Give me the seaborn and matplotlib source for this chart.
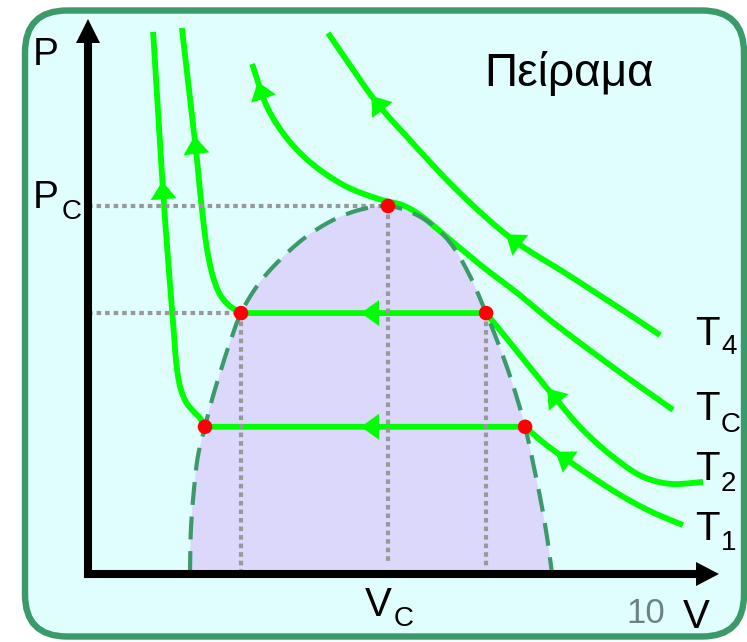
import numpy as np
import pandas as pd
import matplotlib
matplotlib.use("Agg")
import matplotlib.pyplot as plt
from matplotlib.patches import FancyBboxPatch, Polygon
import seaborn as sns

# ---------------------------------------------------------------
# Van der Waals style P-V diagram (V and P in units of Vc/10, Pc/10)
# ---------------------------------------------------------------
Vc, Pc = 10.0, 10.0

# saturation dome: liquid side -> critical point -> vapour side
dome_V = [3.40, 3.43, 3.53, 3.67, 3.90, 4.13, 4.40, 4.70, 5.10, 5.73, 6.63, 7.40,
          8.30, 9.17, 10.00, 10.73, 11.50, 12.13, 12.73, 13.27, 13.63, 14.00,
          14.30, 14.57, 14.83, 15.10, 15.30, 15.47]
dome_P = [0.00, 1.20, 2.28, 3.23, 4.00, 4.73, 5.46, 6.22, 7.09, 7.93, 8.72, 9.24,
          9.67, 9.92, 10.00, 9.84, 9.48, 8.94, 8.10, 7.09, 6.36, 5.54,
          4.78, 4.00, 3.04, 1.96, 1.01, 0.00]

# isotherm T1 (lowest): liquid branch, then vapour branch
T1_liq_V = [2.17, 2.33, 2.50, 2.67, 2.83, 2.97, 3.10, 3.27, 3.50, 3.73, 3.90]
T1_liq_P = [14.73, 12.61, 10.43, 8.53, 6.90, 5.54, 5.00, 4.67, 4.43, 4.24, 4.00]
T1_vap_V = [14.57, 15.07, 15.83, 17.63, 18.73, 19.83]
T1_vap_P = [4.00, 3.64, 3.18, 2.20, 1.71, 1.33]

# isotherm T2
T2_liq_V = [3.13, 3.37, 3.60, 3.80, 4.00, 4.20, 4.43, 4.73, 5.10]
T2_liq_P = [14.84, 13.15, 11.52, 9.89, 8.67, 7.99, 7.55, 7.28, 7.09]
T2_vap_V = [13.27, 13.73, 14.40, 15.40, 16.50, 17.63, 18.50, 19.40, 20.50]
T2_vap_P = [7.09, 6.63, 5.95, 4.95, 3.91, 3.10, 2.64, 2.45, 2.50]

# critical isotherm Tc
Tc_V = [5.47, 5.97, 6.50, 7.07, 7.73, 8.63, 9.50, 10.00, 10.40, 10.97, 12.07,
        13.17, 14.30, 15.40, 17.63, 19.50]
Tc_P = [13.86, 12.69, 11.98, 11.44, 10.98, 10.52, 10.24, 10.12, 10.05, 9.81, 9.08,
        8.34, 7.64, 6.90, 5.54, 4.46]

# supercritical isotherm T4
T4_V = [8.00, 8.73, 9.63, 10.63, 12.40, 14.17, 16.00, 18.17, 19.07]
T4_P = [14.70, 13.83, 12.80, 11.88, 10.35, 9.08, 8.13, 6.98, 6.49]

# flow arrows: (isotherm, coordinate used to locate it, value)
arrow_marks = [("T1", "P", 10.43), ("T1", "V", 9.40), ("T1", "V", 15.83),
               ("T2", "P", 11.66), ("T2", "V", 9.40), ("T2", "V", 15.50),
               ("Tc", "P", 13.15),
               ("T4", "V", 9.63), ("T4", "V", 14.17)]

iso_labels = ["T4", "TC", "T2", "T1"]

# ---------------------------------------------------------------
W, H = 747, 642
GREEN = "#00ff00"
DOME = "#3a9a6a"
GREY = "#999999"

fig = plt.figure(figsize=(W / 100, H / 100), dpi=100)
fig.patch.set_facecolor("white")

# rounded card behind the diagram
card = FancyBboxPatch((0.25, 0.055), 7.19, 6.26,
                      boxstyle="round,pad=0,rounding_size=0.42",
                      transform=fig.dpi_scale_trans, facecolor="#e1fefe",
                      edgecolor=DOME, linewidth=4.6, zorder=-5)
fig.add_artist(card)

ax = fig.add_axes([0, 0, 1, 1])
ax.set_xlim(-88 / 30, (W - 88) / 30)
ax.set_ylim(-(H - 574) / 36.8, 574 / 36.8)
ax.axis("off")
ax.patch.set_visible(False)


def smooth(V, P, per=14):
    """Centripetal Catmull-Rom path through the given points (display space)."""
    pts = ax.transData.transform(np.column_stack([V, P]))
    if len(pts) < 3:
        return np.asarray(V, float), np.asarray(P, float)
    ext = np.vstack([2 * pts[0] - pts[1], pts, 2 * pts[-1] - pts[-2]])
    out = []
    for i in range(1, len(ext) - 2):
        p0, p1, p2, p3 = ext[i - 1], ext[i], ext[i + 1], ext[i + 2]
        t0 = 0.0
        t1 = t0 + np.linalg.norm(p1 - p0) ** 0.5
        t2 = t1 + np.linalg.norm(p2 - p1) ** 0.5
        t3 = t2 + np.linalg.norm(p3 - p2) ** 0.5
        t = np.linspace(t1, t2, per, endpoint=False)[:, None]
        A1 = (t1 - t) / (t1 - t0) * p0 + (t - t0) / (t1 - t0) * p1
        A2 = (t2 - t) / (t2 - t1) * p1 + (t - t1) / (t2 - t1) * p2
        A3 = (t3 - t) / (t3 - t2) * p2 + (t - t2) / (t3 - t2) * p3
        B1 = (t2 - t) / (t2 - t0) * A1 + (t - t0) / (t2 - t0) * A2
        B2 = (t3 - t) / (t3 - t1) * A2 + (t - t1) / (t3 - t1) * A3
        out.append((t2 - t) / (t2 - t1) * B1 + (t - t1) / (t2 - t1) * B2)
    out.append(pts[-1][None, :])
    d = ax.transData.inverted().transform(np.vstack(out))
    return d[:, 0], d[:, 1]


# smoothed isotherm paths (tie lines join liquid and vapour branches)
paths = {}
for name, parts in {
    "T1": [(T1_liq_V, T1_liq_P), (T1_vap_V, T1_vap_P)],
    "T2": [(T2_liq_V, T2_liq_P), (T2_vap_V, T2_vap_P)],
    "Tc": [(Tc_V, Tc_P)],
    "T4": [(T4_V, T4_P)],
}.items():
    vs, ps = zip(*[smooth(v, p) for v, p in parts])
    paths[name] = (np.concatenate(vs), np.concatenate(ps))

dome_sV, dome_sP = smooth(dome_V, dome_P)

# two-phase region
ax.fill(dome_sV, dome_sP, color="#dcd8fc", lw=0, zorder=1)

# isotherms
iso_df = pd.concat([pd.DataFrame({"V": v, "P": p, "curve": k})
                    for k, (v, p) in paths.items()], ignore_index=True)
sns.lineplot(data=iso_df, x="V", y="P", units="curve", estimator=None,
             sort=False, color=GREEN, lw=4.2, legend=False, ax=ax, zorder=3)
for ln in ax.lines:
    ln.set_solid_capstyle("butt")
    ln.set_solid_joinstyle("round")

# guide lines to the axes
P2 = T2_liq_P[-1]
guides = [([0, Vc], [Pc, Pc]), ([Vc, Vc], [Pc, 0.3]),
          ([0, T2_liq_V[-1]], [P2, P2]), ([T2_liq_V[-1], T2_liq_V[-1]], [P2, -0.1]),
          ([T2_vap_V[0], T2_vap_V[0]], [P2, 0.2])]
for gv, gp in guides:
    ax.plot(gv, gp, color=GREY, lw=3.0, ls=(0, (1.1, 0.95)),
            dash_capstyle="butt", zorder=4)

# dome outline
ax.plot(dome_sV, dome_sP, color=DOME, lw=3.0, ls=(0, (5.5, 2.8)),
        dash_capstyle="butt", zorder=5)

# flow arrows along the isotherms (pointing towards smaller volume)
to_disp = ax.transData.transform
to_data = ax.transData.inverted().transform


def triangle(c, u, length, width, **kw):
    n = np.array([-u[1], u[0]])
    verts = np.array([c + u * length / 2,
                      c - u * length / 2 + n * width / 2,
                      c - u * length / 2 - n * width / 2])
    ax.add_patch(Polygon(to_data(verts), closed=True, lw=0, **kw))


for name, key, val in arrow_marks:
    v, p = paths[name]
    arr = p if key == "P" else v
    for i in range(len(arr) - 1):
        if (arr[i] - val) * (arr[i + 1] - val) <= 0 and arr[i] != arr[i + 1]:
            f = (val - arr[i]) / (arr[i + 1] - arr[i])
            a = to_disp([v[i], p[i]])
            b = to_disp([v[i + 1], p[i + 1]])
            c = a + f * (b - a)
            u = (a - b) / np.linalg.norm(a - b)
            triangle(c, u, 18, 26, color=GREEN, zorder=6)
            break

# tie-line ends and critical point
pts_df = pd.DataFrame({
    "V": [T1_liq_V[-1], T1_vap_V[0], T2_liq_V[-1], T2_vap_V[0], Vc],
    "P": [T1_liq_P[-1], T1_vap_P[0], T2_liq_P[-1], T2_vap_P[0], Pc],
})
sns.scatterplot(data=pts_df, x="V", y="P", color="#ff0000", s=110,
                edgecolor="none", linewidth=0, ax=ax, zorder=7)

# coordinate axes with arrow heads
V_tip, P_tip = (719 - 88) / 30, (574 - 19) / 36.8
o = to_disp([0, 0])
tx = to_disp([V_tip, 0])
ty = to_disp([0, P_tip])
ax.plot(to_data([o, tx - [20, 0]])[:, 0], [0, 0], color="black", lw=5.8,
        solid_capstyle="projecting", zorder=8)
ax.plot([0, 0], to_data([o, ty - [0, 20]])[:, 1], color="black", lw=5.8,
        solid_capstyle="projecting", zorder=8)
triangle(tx - [11.5, 0], np.array([1.0, 0.0]), 23, 24, color="black", zorder=9)
triangle(ty - [0, 12], np.array([0.0, 1.0]), 24, 24, color="black", zorder=9)

# ---------------------------------------------------------------
# text
FONT = "Liberation Sans"


def label(x, y, s, size, color="black"):
    fig.text(x / 100, (H - y) / 100, s, transform=fig.dpi_scale_trans,
             fontsize=size, color=color, family=FONT, ha="left", va="baseline")


label(33, 65, "P", 28)
label(33, 208, "P", 28)
label(62, 219, "C", 20)
label(365, 616, "V", 29)
label(394, 626, "C", 20)
label(626, 623, "10", 25, color="#6e8282")
label(683, 628, "V", 29)
label(484, 86, "Πείραμα", 33)

sub = {"T4": "4", "TC": "C", "T2": "2", "T1": "1"}
t_base = {"T4": (345, 354), "TC": (420, 432), "T2": (480, 491), "T1": (540, 550)}
for key in iso_labels:
    yb, ys = t_base[key]
    label(695, yb, "T", 29)
    label(721, ys, sub[key], 20)

fig.savefig("out.png", dpi=100, facecolor="white")
